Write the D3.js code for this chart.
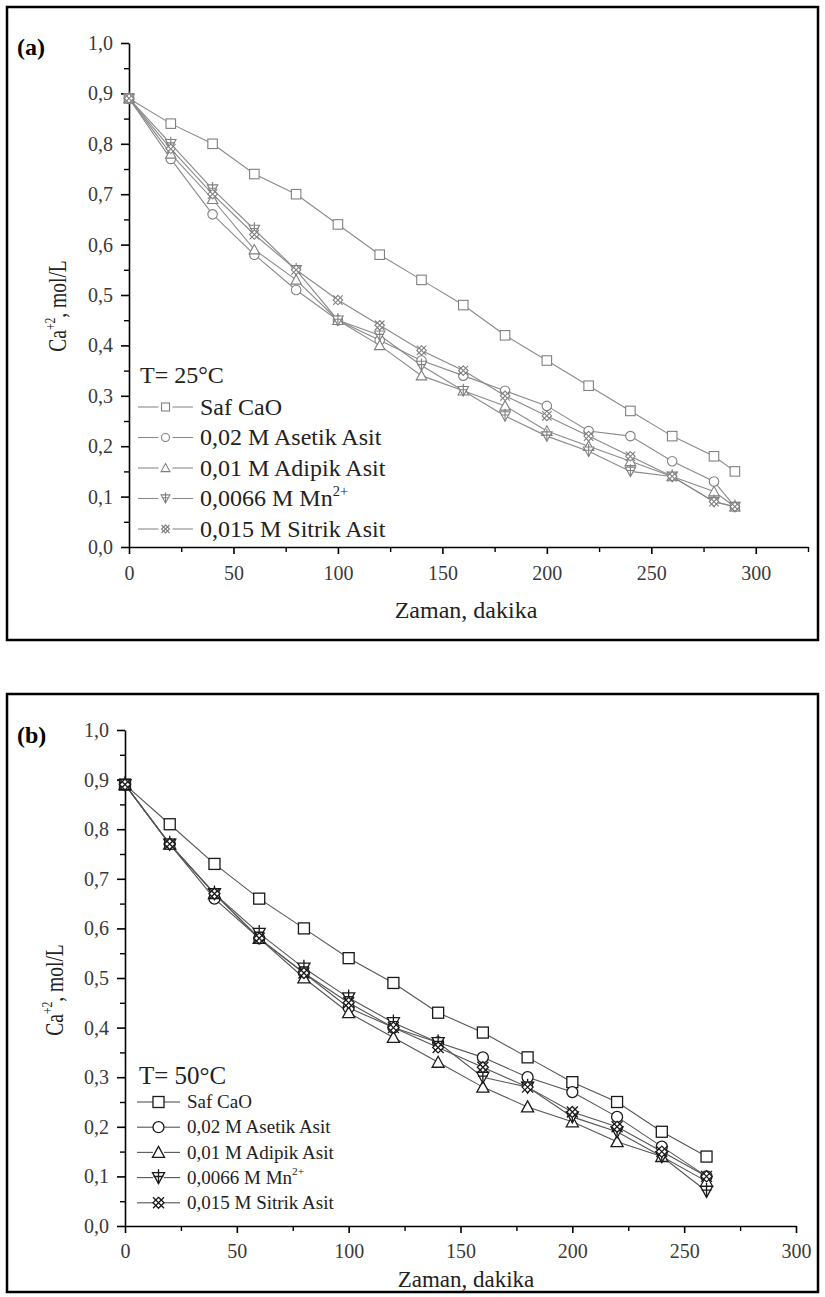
<!DOCTYPE html>
<html>
<head>
<meta charset="utf-8">
<script src="https://cdn.jsdelivr.net/npm/d3@7"></script>
<style>
  body { margin: 0; background: #fff; }
  svg, svg text { font-family: "Liberation Serif", "Times New Roman", Tinos, "DejaVu Serif", serif !important; }
</style>
</head>
<body>
<div id="vis-holder"></div>
<script>
// Data
const timeA = [0, 20, 40, 60, 80, 100, 120, 140, 160, 180, 200, 220, 240, 260, 280, 290];
const safA    = [0.89, 0.84, 0.80, 0.74, 0.70, 0.64, 0.58, 0.53, 0.48, 0.42, 0.37, 0.32, 0.27, 0.22, 0.18, 0.15];
const asetikA = [0.89, 0.77, 0.66, 0.58, 0.51, 0.45, 0.41, 0.37, 0.34, 0.31, 0.28, 0.23, 0.22, 0.17, 0.13, 0.08];
const adipikA = [0.89, 0.78, 0.69, 0.59, 0.53, 0.45, 0.40, 0.34, 0.31, 0.28, 0.23, 0.20, 0.17, 0.14, 0.11, 0.08];
const mnA     = [0.89, 0.80, 0.71, 0.63, 0.55, 0.45, 0.42, 0.36, 0.31, 0.26, 0.22, 0.19, 0.15, 0.14, 0.09, 0.08];
const sitrikA = [0.89, 0.79, 0.70, 0.62, 0.55, 0.49, 0.44, 0.39, 0.35, 0.30, 0.26, 0.22, 0.18, 0.14, 0.09, 0.08];

const timeB = [0, 20, 40, 60, 80, 100, 120, 140, 160, 180, 200, 220, 240, 260];
const safB    = [0.89, 0.81, 0.73, 0.66, 0.60, 0.54, 0.49, 0.43, 0.39, 0.34, 0.29, 0.25, 0.19, 0.14];
const asetikB = [0.89, 0.77, 0.66, 0.58, 0.51, 0.44, 0.40, 0.37, 0.34, 0.30, 0.27, 0.22, 0.16, 0.10];
const adipikB = [0.89, 0.77, 0.67, 0.58, 0.50, 0.43, 0.38, 0.33, 0.28, 0.24, 0.21, 0.17, 0.14, 0.09];
const mnB     = [0.89, 0.77, 0.67, 0.59, 0.52, 0.46, 0.41, 0.37, 0.30, 0.28, 0.22, 0.19, 0.14, 0.07];
const sitrikB = [0.89, 0.77, 0.67, 0.58, 0.51, 0.45, 0.40, 0.36, 0.32, 0.28, 0.23, 0.20, 0.15, 0.10];

const seriesNames = ["Saf CaO", "0,02 M Asetik Asit", "0,01 M Adipik Asit", "0,0066 M Mn", "0,015 M Sitrik Asit"];
const markerKinds = ["square", "circle", "triangle", "mn", "sitrik"];
const yTicks = [0, 0.1, 0.2, 0.3, 0.4, 0.5, 0.6, 0.7, 0.8, 0.9, 1.0];

const width = 825, height = 1297;
const serif = "'Liberation Serif', 'Times New Roman', Tinos, 'DejaVu Serif', serif";

const svg = d3.select("#vis-holder")
  .append("svg")
  .attr("width", width)
  .attr("height", height)
  .attr("font-family", serif);

// draw one marker at the origin of g
function drawMarker(g, kind, s, stroke, sw) {
  const r = s / 2;
  if (kind === "square") {
    g.append("rect").attr("x", -r).attr("y", -r).attr("width", s).attr("height", s)
      .attr("fill", "white").attr("stroke", stroke).attr("stroke-width", sw);
  } else if (kind === "circle") {
    g.append("circle").attr("r", r).attr("fill", "white").attr("stroke", stroke).attr("stroke-width", sw);
  } else if (kind === "triangle") {
    g.append("path").attr("d", `M0,${-r * 1.1}L${r * 1.1},${r * 0.9}L${-r * 1.1},${r * 0.9}Z`)
      .attr("fill", "white").attr("stroke", stroke).attr("stroke-width", sw);
  } else if (kind === "mn") {
    g.append("path").attr("d", `M0,${r * 1.1}L${r * 1.1},${-r * 0.9}L${-r * 1.1},${-r * 0.9}Z`)
      .attr("fill", "white").attr("stroke", stroke).attr("stroke-width", sw);
    g.append("path").attr("d", `M0,${-r * 1.5}L0,${r * 1.1}M${-r * 0.9},${-r * 0.2}L${r * 0.9},${-r * 0.2}`)
      .attr("fill", "none").attr("stroke", stroke).attr("stroke-width", sw);
  } else {
    g.append("path").attr("d", `M0,${-r}L${r},0L0,${r}L${-r},0Z`)
      .attr("fill", "white").attr("stroke", stroke).attr("stroke-width", sw);
    g.append("path").attr("d", `M${-r},${-r}L${r},${r}M${r},${-r}L${-r},${r}`)
      .attr("fill", "none").attr("stroke", stroke).attr("stroke-width", sw);
  }
}

function comma(v) { return d3.format(".1f")(v).replace(".", ","); }

function drawPanel(cfg) {
  const g = svg.append("g");

  // frame
  g.append("rect")
    .attr("x", cfg.frame[0]).attr("y", cfg.frame[1])
    .attr("width", cfg.frame[2]).attr("height", cfg.frame[3])
    .attr("fill", "none").attr("stroke", "black").attr("stroke-width", 2.5);

  const x = d3.scaleLinear().domain([0, cfg.xMax]).range([cfg.left, cfg.right]);
  const y = d3.scaleLinear().domain([0, 1]).range([cfg.bottom, cfg.top]);

  // y axis
  g.append("g")
    .attr("transform", `translate(${cfg.left},0)`)
    .call(d3.axisLeft(y).tickValues(yTicks).tickFormat(comma).tickSize(8).tickSizeOuter(0).tickPadding(8))
    .attr("font-family", serif)
    .call((a) => a.selectAll("text").attr("font-size", "20px").attr("fill", "#3a3a3a"))
    .call((a) => a.select(".domain").attr("stroke-width", 1.6))
    .call((a) => a.selectAll(".tick line").attr("stroke-width", 1.6));
  g.append("g")
    .attr("transform", `translate(${cfg.left},0)`)
    .call(d3.axisLeft(y).tickValues(d3.range(0.05, 1, 0.1)).tickFormat("").tickSize(5).tickSizeOuter(0))
    .call((a) => a.select(".domain").remove())
    .call((a) => a.selectAll(".tick line").attr("stroke-width", 1.4));

  // x axis
  g.append("g")
    .attr("transform", `translate(0,${cfg.bottom})`)
    .call(d3.axisBottom(x).tickValues(cfg.xMajor).tickFormat(d3.format("d")).tickSize(7).tickSizeOuter(0).tickPadding(cfg.xPad))
    .attr("font-family", serif)
    .call((a) => a.selectAll("text").attr("font-size", "20px").attr("fill", "#3a3a3a"))
    .call((a) => a.select(".domain").attr("stroke-width", 1.6))
    .call((a) => a.selectAll(".tick line").attr("stroke-width", 1.6));
  g.append("g")
    .attr("transform", `translate(0,${cfg.bottom})`)
    .call(d3.axisBottom(x).tickValues(cfg.xMinor).tickFormat("").tickSize(5).tickSizeOuter(0))
    .call((a) => a.select(".domain").remove())
    .call((a) => a.selectAll(".tick line").attr("stroke-width", 1.4));

  // panel label
  g.append("text").attr("x", cfg.frame[0] + 10).attr("y", cfg.labelY)
    .attr("font-size", "24px").attr("font-weight", "bold").text(cfg.label);

  // axis titles
  const yt = g.append("text")
    .attr("transform", `translate(${cfg.yTitleX},${cfg.yTitleY}) rotate(-90) scale(0.78,1)`)
    .attr("text-anchor", "middle").attr("font-size", "25px").attr("fill", "#222");
  yt.append("tspan").text("Ca");
  yt.append("tspan").attr("dy", -11).attr("font-size", "15px").text("+2");
  yt.append("tspan").attr("dy", 11).text(", mol/L");

  g.append("text").attr("x", cfg.xTitleX).attr("y", cfg.xTitleY)
    .attr("text-anchor", "middle").attr("font-size", cfg.xTitleSize).attr("fill", "#222")
    .text("Zaman, dakika");

  // lines and markers
  const line = d3.line().x((d) => x(d.t)).y((d) => y(d.v));
  cfg.series.forEach((vals, i) => {
    const pts = vals.map((v, j) => ({ t: cfg.time[j], v: v }));
    g.append("path").datum(pts).attr("d", line)
      .attr("fill", "none").attr("stroke", cfg.lineColor).attr("stroke-width", 1.1);
  });
  cfg.series.forEach((vals, i) => {
    vals.forEach((v, j) => {
      const m = g.append("g").attr("transform", `translate(${x(cfg.time[j])},${y(v)})`);
      drawMarker(m, markerKinds[i], cfg.markSize, cfg.markColor, cfg.markWidth);
    });
  });

  // legend
  g.append("text").attr("x", cfg.leg.x0 + 2).attr("y", cfg.leg.titleY)
    .attr("font-size", cfg.leg.titleSize).attr("fill", "#222").text(cfg.leg.title);
  seriesNames.forEach((name, i) => {
    const ly = cfg.leg.y0 + i * cfg.leg.dy;
    const mx = (cfg.leg.x0 + cfg.leg.x1) / 2;
    const gap = cfg.leg.markSize / 2 + cfg.leg.gap;
    g.append("line").attr("x1", cfg.leg.x0).attr("x2", mx - gap).attr("y1", ly).attr("y2", ly)
      .attr("stroke", cfg.lineColor).attr("stroke-width", 1.1);
    g.append("line").attr("x1", mx + gap).attr("x2", cfg.leg.x1).attr("y1", ly).attr("y2", ly)
      .attr("stroke", cfg.lineColor).attr("stroke-width", 1.1);
    const m = g.append("g").attr("transform", `translate(${mx},${ly})`);
    drawMarker(m, markerKinds[i], cfg.leg.markSize, cfg.markColor, cfg.markWidth);
    const t = g.append("text").attr("x", cfg.leg.textX).attr("y", ly + cfg.leg.size * 0.33)
      .attr("font-size", cfg.leg.size + "px").attr("fill", "#222").text(name);
    if (i === 3) {
      t.append("tspan").attr("dy", -cfg.leg.size * 0.45).attr("font-size", (cfg.leg.size * 0.6) + "px").text("2+");
    }
  });
}

// Panel (a)
drawPanel({
  frame: [7, 7, 811, 633],
  left: 129, right: 808, top: 43, bottom: 547, xPad: 12,
  xMax: 325, xMajor: [0, 50, 100, 150, 200, 250, 300], xMinor: [25, 75, 125, 175, 225, 275, 325],
  time: timeA, series: [safA, asetikA, adipikA, mnA, sitrikA],
  lineColor: "#8a8a8a", markColor: "#808080", markSize: 9.5, markWidth: 1.1,
  label: "(a)", labelY: 55,
  yTitleX: 66, yTitleY: 306, xTitleX: 466, xTitleY: 618, xTitleSize: "24px",
  leg: { title: "T= 25°C", titleY: 383, titleSize: "24px", x0: 138, x1: 193, textX: 200,
         y0: 407, dy: 30.5, size: 24, markSize: 8, gap: 3 }
});

// Panel (b)
drawPanel({
  frame: [7, 694, 811, 598],
  left: 125, right: 796, top: 730, bottom: 1226, xPad: 11,
  xMax: 300, xMajor: [0, 50, 100, 150, 200, 250, 300], xMinor: [25, 75, 125, 175, 225, 275],
  time: timeB, series: [safB, asetikB, adipikB, mnB, sitrikB],
  lineColor: "#555", markColor: "#1a1a1a", markSize: 11, markWidth: 1.3,
  label: "(b)", labelY: 743,
  yTitleX: 63, yTitleY: 990, xTitleX: 466, xTitleY: 1287, xTitleSize: "23px",
  leg: { title: "T= 50°C", titleY: 1084, titleSize: "25px", x0: 137, x1: 180, textX: 187,
         y0: 1102, dy: 25.2, size: 19, markSize: 11, gap: 0 }
});
</script>
</body>
</html>
